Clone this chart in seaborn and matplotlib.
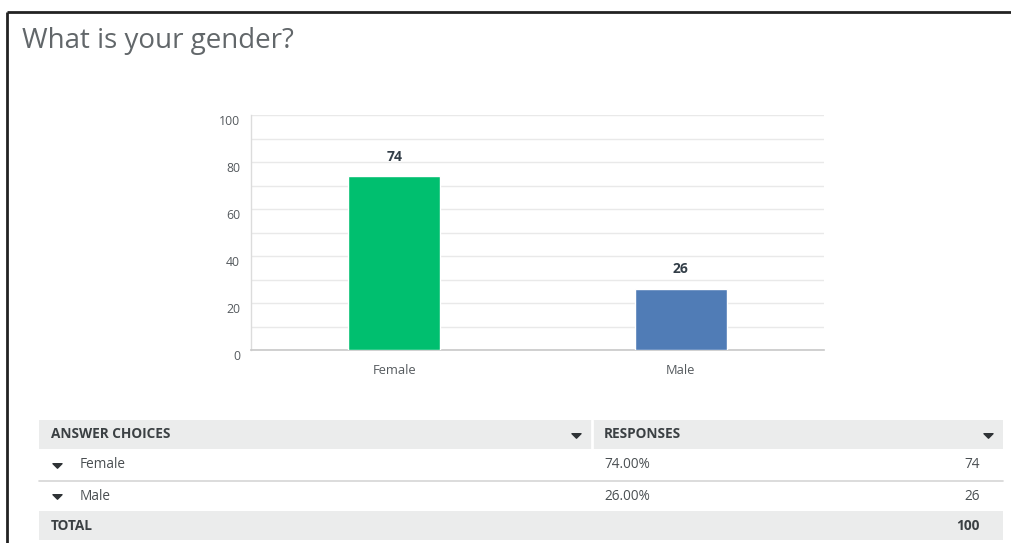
import matplotlib
matplotlib.use("Agg")
import matplotlib.pyplot as plt
import seaborn as sns
import pandas as pd
from matplotlib.patches import Rectangle
from matplotlib.path import Path

# Survey question and answers
question = "What is your gender?"
choices = ["Female", "Male"]
counts = [74, 26]
bar_colors = ["#00BF6F", "#507CB6"]
y_ticks = [0, 20, 40, 60, 80, 100]
table_headers = ["ANSWER CHOICES", "RESPONSES"]
total_label = "TOTAL"

df = pd.DataFrame({"choice": choices, "count": counts})
total = sum(counts)

sns.set_theme(style="white")
plt.rcParams["font.family"] = ["Open Sans", "DejaVu Sans"]

W, H = 1011, 543
fig = plt.figure(figsize=(W / 100, H / 100), dpi=100)

# Overlay in pixel coordinates for frame, title and summary table
ov = fig.add_axes([0, 0, 1, 1])
ov.set_xlim(0, W)
ov.set_ylim(H, 0)
ov.axis("off")

# panel frame (top and left edges)
ov.plot([7, W], [12, 12], color="#222222", lw=2.0, solid_capstyle="butt")
ov.plot([7, 7], [12, H], color="#222222", lw=2.0, solid_capstyle="butt")

ov.text(22, 41, question, fontsize=20, color="#62676a", va="center", ha="left")

# ---- bar chart ----
ax = fig.add_axes([251 / W, (H - 350) / H, 573 / W, 235 / H])
sns.barplot(data=df, x="choice", y="count", hue="choice", palette=bar_colors,
            order=choices, hue_order=choices, width=0.32, legend=False,
            saturation=1, ax=ax, zorder=3)
ax.set_xlim(-0.5, 1.5)
ax.set_ylim(0, 100)
ax.set_yticks(y_ticks)
ax.set_yticks(range(0, 101, 10), minor=True)
ax.grid(axis="y", which="both", color="#e9e9e9", lw=1.0, zorder=0)
ax.set_axisbelow(True)
ax.set_xlabel("")
ax.set_ylabel("")
for s in ["top", "right"]:
    ax.spines[s].set_visible(False)
ax.spines["left"].set_color("#dcdcdc")
ax.spines["bottom"].set_color("#c8c8c8")
ax.spines["left"].set_linewidth(1.0)
ax.spines["bottom"].set_linewidth(1.2)
ax.tick_params(axis="y", which="both", length=0, labelsize=8.8, labelcolor="#555a5e", pad=8)
ax.tick_params(axis="x", length=0, labelsize=9.3, labelcolor="#555a5e", pad=10)
for lbl in ax.get_yticklabels():
    lbl.set_va("top")
for c in ax.containers:
    ax.bar_label(c, labels=[f"{v:.0f}" for v in c.datavalues], padding=9,
                 fontsize=10, fontweight="bold", color="#333e48")

# ---- summary table ----
left, right, divider = 39, 1003, 592
head_bg = "#ebecec"
txt = "#4a4f52"
fs = 9.8
row_tops = [420, 449, 481, 511]
row_h = [29, 31, 30, 29]

# flat downward caret used as the dropdown glyph
caret = Path([(-1.0, 0.4), (1.0, 0.4), (0.0, -0.6), (-1.0, 0.4)],
             [Path.MOVETO, Path.LINETO, Path.LINETO, Path.CLOSEPOLY])


def draw_caret(x, y):
    ov.plot([x], [y], marker=caret, markersize=6.5, color="#2f3336", lw=0)


ov.add_patch(Rectangle((left, row_tops[0]), right - left, row_h[0], color=head_bg, lw=0))
ov.plot([divider, divider], [row_tops[0], row_tops[0] + row_h[0]], color="white", lw=2)
ov.add_patch(Rectangle((left, row_tops[3]), right - left, row_h[3], color=head_bg, lw=0))
ov.plot([left, right], [480.5, 480.5], color="#d5d5d5", lw=1.2)

hy = row_tops[0] + row_h[0] / 2
ov.text(51, hy, table_headers[0], fontsize=fs, fontweight="bold", color="#3b4043", va="center")
ov.text(604, hy, table_headers[1], fontsize=fs, fontweight="bold", color="#3b4043", va="center")
draw_caret(576, hy)
draw_caret(988, hy)

for i, (name, n) in enumerate(zip(choices, counts)):
    y = row_tops[i + 1] + row_h[i + 1] / 2
    draw_caret(57, y)
    ov.text(80, y, name, fontsize=fs, color=txt, va="center")
    ov.text(604, y, f"{100 * n / total:.2f}%", fontsize=fs, color=txt, va="center")
    ov.text(980, y, f"{n}", fontsize=fs, color=txt, va="center", ha="right")

ty = row_tops[3] + row_h[3] / 2
ov.text(51, ty, total_label, fontsize=fs, fontweight="bold", color="#3b4043", va="center")
ov.text(980, ty, f"{total}", fontsize=fs, fontweight="bold", color="#3b4043",
        va="center", ha="right")

fig.savefig("out.png", dpi=100, facecolor="white")
